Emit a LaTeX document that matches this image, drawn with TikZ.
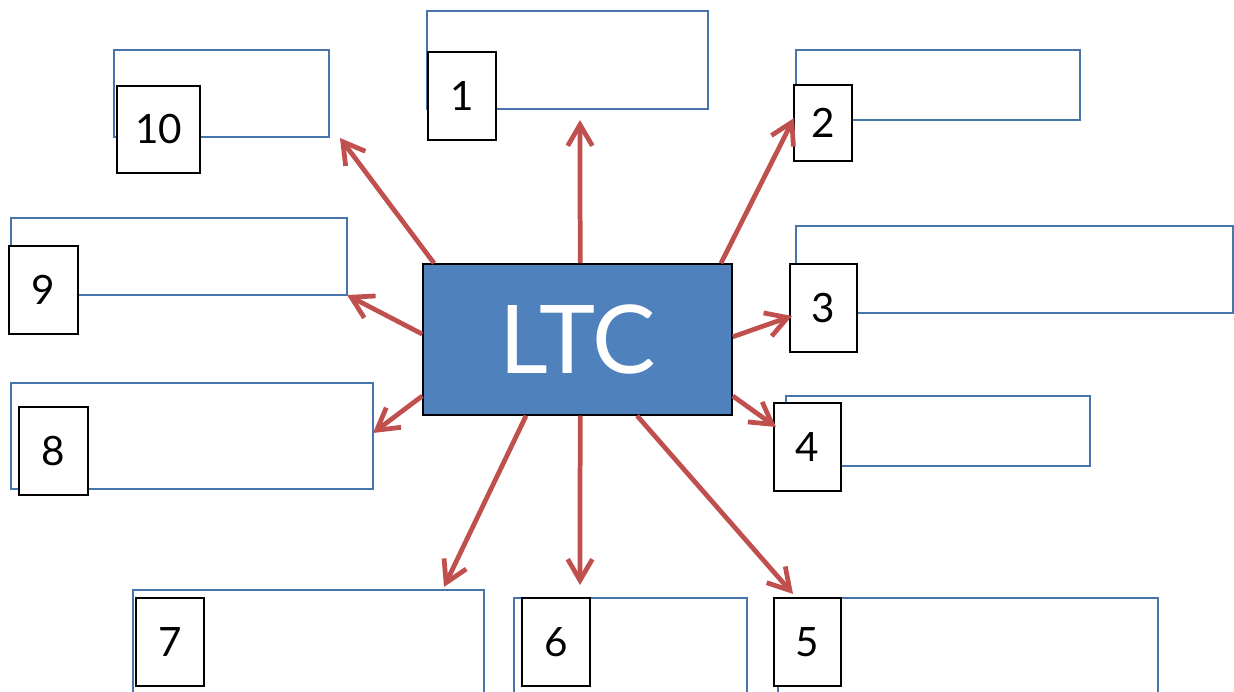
\documentclass[tikz,border=0pt]{standalone}
\usepackage{fontspec}
\setmainfont{Lato}
\usetikzlibrary{arrows.meta}
\definecolor{ltcblue}{HTML}{4F81BD}
\definecolor{ltcred}{HTML}{C0504D}
\tikzset{
    >={Straight Barb[length=6pt, width=7pt]},
    field/.style={draw=ltcblue!90!black, line width=0.7pt, inner sep=0pt},
    tag/.style={draw=black, fill=white, line width=0.8pt, inner sep=0pt,
        font=\fontsize{11.5}{13}\selectfont},
    hub/.style={draw=black, fill=ltcblue, line width=0.4pt, text=white, inner sep=0pt,
        minimum width=3.09cm, minimum height=1.51cm, font=\fontsize{27}{30}\selectfont},
    spoke/.style={->, ltcred, line width=1.35pt},
}

\begin{document}
\begin{tikzpicture}[x=0.01cm, y=-0.01cm]
    \useasboundingbox (0,0) rectangle (1234,692);
    % outline boxes
    \foreach \n/\x/\y/\w/\h in {1/567.5/60/281/98, 2/938/85/284/70, 3/1014.5/269.5/437/87,
        4/938/431/304/70, 5/968/659/380/122, 6/630.5/659/233/122, 7/308.5/655/351/130,
        8/192/436/362/106, 9/179/256.5/336/77, 10/221.5/93.5/215/87}
        \node[field, minimum width=\w*0.01cm, minimum height=\h*0.01cm] (f\n) at (\x,\y) {};
    % numbered tags
    \foreach \n/\x/\y/\w/\h in {1/462/96/68/88, 2/823/123/58/76, 3/823.5/308/67/88,
        4/807.5/447/67/88, 5/807.5/642/67/88, 6/556/642/68/88, 7/170/642/68/88,
        8/53.5/451/69/88, 9/43.5/290/69/88, 10/158.5/129.5/83/87}
        \node[tag, minimum width=\w*0.01cm, minimum height=\h*0.01cm] (n\n) at (\x,\y) {\n};
    \node[hub] (ltc) at (577.5,339.5) {LTC};
    % arrow tips
    \foreach \n/\x/\y in {1/580/120, 2/794/118, 3/792/316, 4/776/427, 5/793/594,
        6/580/585, 7/444/587, 8/373/433, 9/347/295, 10/340/138}
        \coordinate (t\n) at (\x,\y);
    \foreach \n/\a in {1/88, 2/28, 3/1, 4/-20, 5/-52, 6/-88, 7/236, 8/200, 9/178, 10/152}
        \draw[spoke] (ltc.\a) -- (t\n);
\end{tikzpicture}
\end{document}
